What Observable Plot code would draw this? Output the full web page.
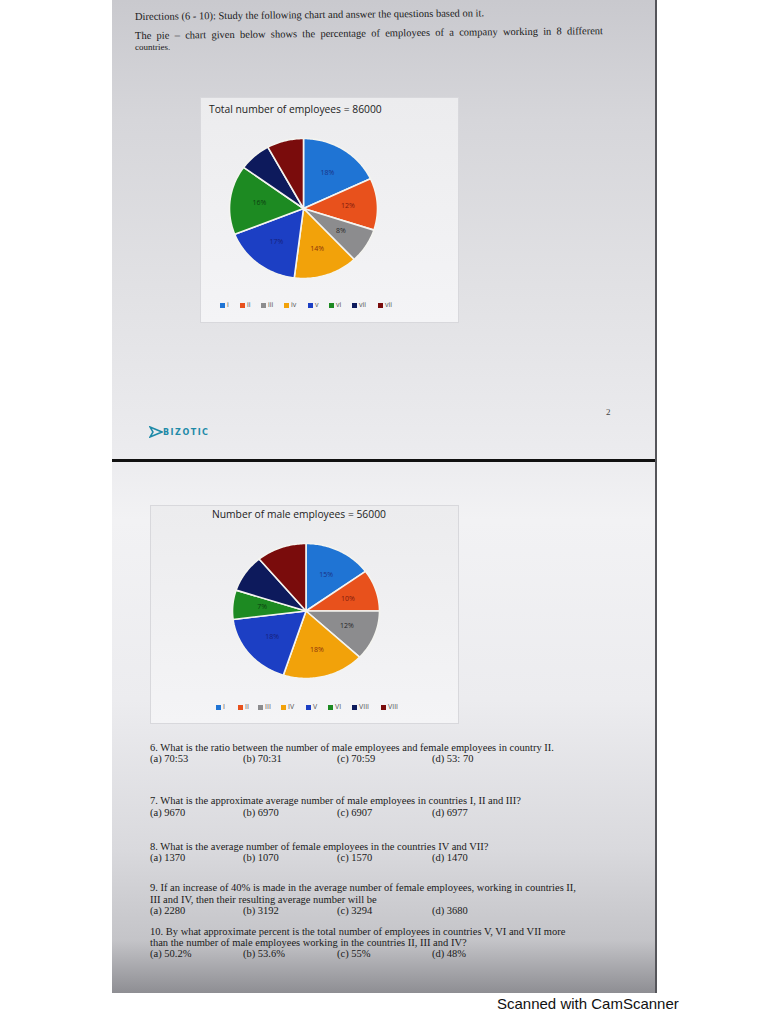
<!DOCTYPE html>
<html><head><meta charset="utf-8">
<script src="https://cdn.jsdelivr.net/npm/d3@7"></script>
<script src="https://cdn.jsdelivr.net/npm/@observablehq/plot@0.6"></script>
<style>
body{margin:0;background:#fff;}
#root{position:relative;width:768px;height:1024px;overflow:hidden;background:#fff;}
#page{position:absolute;left:112px;top:0;width:543px;height:993px;
 background:linear-gradient(180deg,#c9c9ce 0px,#d6d6da 120px,#e2e2e5 300px,#ececef 460px,#f2f2f4 520px,#ececef 700px,#d9d9dd 850px,#c4c4c8 940px,#8e8e93 993px);
 border-right:2px solid #55555a;}
.serif{position:absolute;font-family:"Liberation Serif","DejaVu Serif",serif;color:#1a1a1a;font-size:10.5px;white-space:nowrap;}
.box{position:absolute;background:linear-gradient(180deg,#ececee,#f4f4f6);border:1px solid #d8d8dc;}
.ctitle{position:absolute;font-family:"Open Sans",sans-serif;font-size:10.3px;color:#222;white-space:nowrap;}
.leg{position:absolute;font-family:"Open Sans",sans-serif;font-size:7px;color:#555;white-space:nowrap;}
.leg span.sq{display:inline-block;width:5px;height:5px;margin-right:2px;vertical-align:middle;}
.plot{position:absolute;}
</style></head>
<body><div id="root"><div id="page"></div></div>
<script>
// ---- data ----
const countries = ["I","II","III","IV","V","VI","VII","VIII"];
const totalPct  = [18, 12, 8, 14, 17, 16, 7, 8];
const malePct   = [15, 10, 12, 18, 18, 7, 9, 11];
const legendTotal = ["i","ii","iii","iv","v","vi","vii","vii"];
const legendMale  = ["I","II","III","IV","V","VI","VIII","VIII"];
const sliceColors = ["#1f74d4","#e8511c","#8c8c8e","#f2a20a","#1c3fc4","#1d8a22","#0d1a5c","#7a0c0c"];
const labelColors = ["#1a3285","#7e1a0c","#262628","#8a300a","#16207a","#0c3e10","#0d1a5c","#7a0c0c"];
const titleTotal = "Total number of employees = 86000";
const titleMale = "Number of male employees = 56000";

const root = document.getElementById("root");
function add(html){ const t=document.createElement("div"); t.innerHTML=html; const el=t.firstElementChild; root.appendChild(el); return el; }

// header text
add(`<div class="serif" style="left:135px;top:11px;transform:rotate(-0.6deg);transform-origin:left">Directions (6 - 10): Study the following chart and answer the questions based on it.</div>`);
add(`<div class="serif" style="left:135px;top:30px;width:468px;text-align:justify;text-align-last:justify;transform:rotate(-0.6deg);transform-origin:left">The pie – chart given below shows the percentage of employees of a company working in 8 different</div>`);
add(`<div class="serif" style="left:135px;top:42px;font-size:9px">countries.</div>`);

// chart boxes
add(`<div class="box" style="left:200px;top:97px;width:257px;height:224px"></div>`);
add(`<div class="box" style="left:150px;top:505px;width:307px;height:217px"></div>`);
add(`<div class="ctitle" style="left:209px;top:102px">${titleTotal}</div>`);
add(`<div class="ctitle" style="left:212px;top:507px">${titleMale}</div>`);

function pie(values, w, h){
  const arcs = d3.pie().sort(null).value(d=>d)(values);
  const pts = [];
  arcs.forEach((a,i)=>{
    pts.push({k:countries[i],x:0,y:0});
    const n = Math.max(2, Math.ceil((a.endAngle-a.startAngle)/0.02));
    for(let j=0;j<=n;j++){const t=a.startAngle+(a.endAngle-a.startAngle)*j/n; pts.push({k:countries[i],x:Math.sin(t),y:Math.cos(t)});}
  });
  const cent = arcs.map((a,i)=>{const m=(a.startAngle+a.endAngle)/2; return {x:0.6*Math.sin(m),y:0.6*Math.cos(m),t:values[i]+"%",c:labelColors[i]};});
  return Plot.plot({
    width:w,height:h,margin:0,
    style:{background:"transparent",overflow:"visible"},
    x:{domain:[-1,1],axis:null},y:{domain:[-1,1],axis:null},
    color:{type:"ordinal",domain:countries,range:sliceColors},
    marks:[
      Plot.line(pts,{x:"x",y:"y",z:"k",fill:"k",stroke:"#f4f4f0",strokeWidth:1.6,curve:"linear-closed"}),
      ...cent.map(c=>Plot.text([c],{x:"x",y:"y",text:"t",fill:c.c,fontSize:7,fontFamily:"Open Sans"}))
    ]
  });
}
const p1 = pie(totalPct,148,140); p1.classList.add("plot"); p1.style.left="229px"; p1.style.top="138px"; root.appendChild(p1);
const p2 = pie(malePct,147,135); p2.classList.add("plot"); p2.style.left="232px"; p2.style.top="543px"; root.appendChild(p2);

function legend(labels, xs, y){
  labels.forEach((l,i)=>add(`<div class="leg" style="left:${xs[i]}px;top:${y}px"><span class="sq" style="background:${sliceColors[i]}"></span>${l}</div>`));
}
legend(legendTotal,[220,240,261,284,308,329,352,378],300);
legend(legendMale,[216,238,258,281,306,328,352,381],702);

// page number + logo
add(`<div class="serif" style="left:606px;top:407px;font-size:9px;color:#444">2</div>`);
add(`<div style="position:absolute;left:149px;top:426px;width:80px;height:16px;font-family:'DejaVu Sans',sans-serif;font-size:8px;letter-spacing:1.5px;color:#1e8aa8;font-weight:bold;white-space:nowrap"><svg width="14" height="12" style="vertical-align:middle"><path d="M1 1 L13 6 L1 11 L4 6 Z" fill="none" stroke="#1e8aa8" stroke-width="1.5"/></svg>BIZOTIC</div>`);
// separator line
add(`<div style="position:absolute;left:112px;top:459px;width:543px;height:3px;background:#111"></div>`);

// questions
const Q = [
 [742,"6. What is the ratio between the number of male employees and female employees in country II."],
 [753,["(a) 70:53","(b) 70:31","(c) 70:59","(d) 53: 70"]],
 [795,"7. What is the approximate average number of male employees in countries I, II and III?"],
 [807,["(a) 9670","(b) 6970","(c) 6907","(d) 6977"]],
 [841,"8. What is the average number of female employees in the countries IV and VII?"],
 [852,["(a) 1370","(b) 1070","(c) 1570","(d) 1470"]],
 [882,"9. If an increase of 40% is made in the average number of female employees, working in countries II,"],
 [894,"III and IV, then their resulting average number will be"],
 [905,["(a) 2280","(b) 3192","(c) 3294","(d) 3680"]],
 [926,"10. By what approximate percent is the total number of employees in countries V, VI and VII more"],
 [937,"than the number of male employees working in the countries II, III and IV?"],
 [948,["(a) 50.2%","(b) 53.6%","(c) 55%","(d) 48%"]]
];
const optX=[150,243,337,432];
Q.forEach(([y,t])=>{
  if(Array.isArray(t)) t.forEach((o,i)=>add(`<div class="serif" style="left:${optX[i]}px;top:${y}px">${o}</div>`));
  else add(`<div class="serif" style="left:150px;top:${y}px">${t}</div>`);
});
add(`<div style="position:absolute;left:497px;top:995px;font-family:'Liberation Sans',Arial,sans-serif;font-size:15px;color:#111;white-space:nowrap">Scanned with CamScanner</div>`);
</script></body></html>
